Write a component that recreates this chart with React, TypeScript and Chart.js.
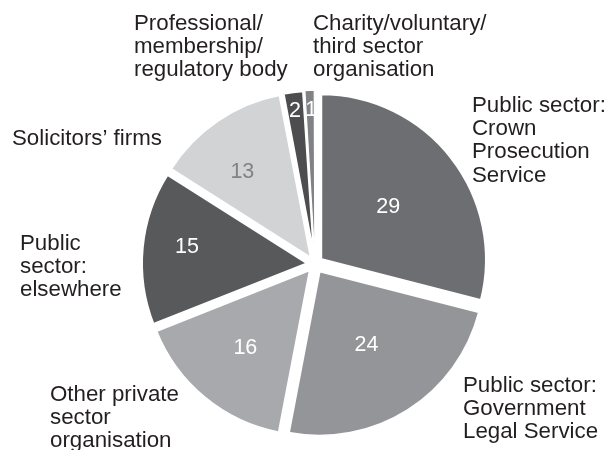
import React, { useEffect, useRef } from "react";
import { Chart, registerables } from "chart.js";

Chart.register(...registerables);

// ---- data ----
const categoryLines: string[][] = [
  ["Public sector:", "Crown", "Prosecution", "Service"],
  ["Public sector:", "Government", "Legal Service"],
  ["Other private", "sector", "organisation"],
  ["Public", "sector:", "elsewhere"],
  ["Solicitors\u2019 firms"],
  ["Professional/", "membership/", "regulatory body"],
  ["Charity/voluntary/", "third sector", "organisation"],
];
const values: number[] = [29, 24, 16, 15, 13, 2, 1];

// ---- styles / placement ----
const sliceColors = ["#6d6e71", "#939598", "#a7a9ac", "#58595b", "#d1d3d4", "#4d4d4f", "#808285"];
const valueColors = ["#ffffff", "#ffffff", "#ffffff", "#ffffff", "#808285", "#ffffff", "#ffffff"];
const sliceOffsets = [29, 32, 28, 27, 25, 17, 17];
const sliceBorders = [3, 3, 3, 3, 3, 2.5, 1.2];
const valueRadiusFrac = [0.56, 0.58, 0.66, 0.78, 0.71, 0.93, 0.93];
const valueAngleShiftDeg = [0, 0, 0, 2, -4, -0.3, 0.4];
const labelAnchors: [number, number][] = [
  [472, 112],
  [463, 392],
  [50, 401],
  [20, 250],
  [12, 145],
  [134, 30],
  [313, 30],
];
const LINE_H = 23.2;
const FONT = "Liberation Sans, Arial, Helvetica, sans-serif";

const labelPlugin = {
  id: "pieLabels",
  afterDatasetsDraw(chart: any) {
    const ctx = chart.ctx as CanvasRenderingContext2D;
    const meta = chart.getDatasetMeta(0);
    ctx.save();
    // values inside slices
    ctx.font = `21.5px ${FONT}`;
    ctx.textAlign = "center";
    ctx.textBaseline = "middle";
    meta.data.forEach((arc: any, i: number) => {
      const p = arc.getProps(["x", "y", "startAngle", "endAngle", "outerRadius"], true);
      const mid = (p.startAngle + p.endAngle) / 2 + (valueAngleShiftDeg[i] * Math.PI) / 180;
      const r = p.outerRadius * valueRadiusFrac[i];
      ctx.fillStyle = valueColors[i];
      ctx.fillText(String(values[i]), p.x + Math.cos(mid) * r, p.y + Math.sin(mid) * r);
    });
    // category labels
    ctx.font = `22.3px ${FONT}`;
    ctx.textAlign = "left";
    ctx.textBaseline = "alphabetic";
    ctx.fillStyle = "#231f20";
    categoryLines.forEach((lines, i) => {
      const [x, y] = labelAnchors[i];
      lines.forEach((t, j) => ctx.fillText(t, x, y + j * LINE_H));
    });
    ctx.restore();
  },
};

export default function App() {
  const ref = useRef<HTMLCanvasElement | null>(null);
  useEffect(() => {
    if (!ref.current) return;
    const chart = new Chart(ref.current, {
      type: "pie",
      data: {
        labels: categoryLines.map((l) => l.join(" ")),
        datasets: [
          {
            data: values,
            backgroundColor: sliceColors,
            borderColor: "#ffffff",
            borderWidth: sliceBorders,
            offset: sliceOffsets,
            radius: 165.5,
          } as any,
        ],
      },
      options: {
        responsive: false,
        animation: false,
        events: [],
        radius: 165.5,
        layout: { padding: { left: 23, right: 0, top: 78, bottom: 0 } },
        plugins: { legend: { display: false }, tooltip: { enabled: false } },
      } as any,
      plugins: [labelPlugin],
    });
    return () => chart.destroy();
  }, []);
  return (
    <div style={{ position: "fixed", left: 0, top: 0, width: 607, height: 450, background: "#fff" }}>
      <canvas ref={ref} width={607} height={450} style={{ width: 607, height: 450, display: "block" }} />
    </div>
  );
}
